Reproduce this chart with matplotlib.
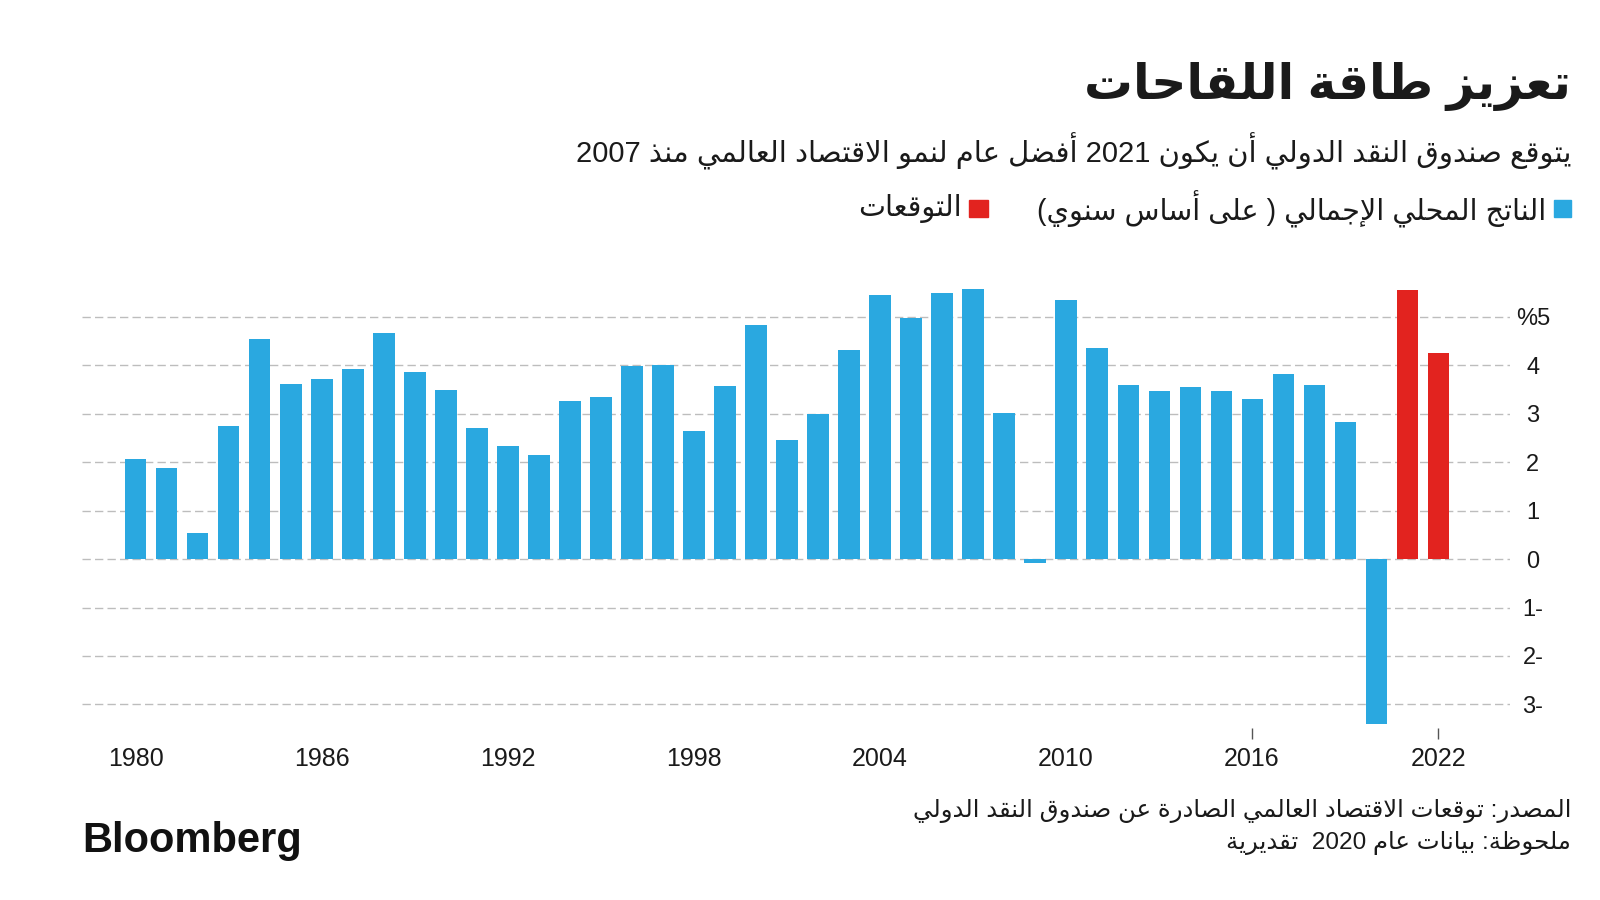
import re
import matplotlib
matplotlib.use('Agg')
import matplotlib.pyplot as plt
from matplotlib.patches import Rectangle

plt.rcParams['font.family'] = ['Liberation Sans', 'DejaVu Sans']

# data (world GDP growth, %)
years = list(range(1980, 2021))
gdp = [2.07, 1.87, 0.54, 2.75, 4.54, 3.60, 3.71, 3.91, 4.67, 3.86,
       3.49, 2.70, 2.34, 2.14, 3.26, 3.35, 3.98, 4.00, 2.64, 3.56,
       4.83, 2.45, 3.00, 4.31, 5.44, 4.97, 5.48, 5.57, 3.02, -0.08,
       5.35, 4.35, 3.58, 3.47, 3.54, 3.47, 3.30, 3.82, 3.59, 2.82,
       -3.40]
forecast_years = [2021, 2022]
forecast = [5.55, 4.24]

xtick_years = [1980, 1986, 1992, 1998, 2004, 2010, 2016, 2022]
ytick_vals = [-3, -2, -1, 0, 1, 2, 3, 4, 5]
ytick_labels = ['3-', '2-', '1-', '0', '1', '2', '3', '4', '%5']

title = 'تعزيز طاقة اللقاحات'
subtitle = 'يتوقع صندوق النقد الدولي أن يكون 2021 أفضل عام لنمو الاقتصاد العالمي منذ 2007'
legend_gdp = 'الناتج المحلي الإجمالي ( على أساس سنوي)'
legend_fc = 'التوقعات'
source = 'المصدر: توقعات الاقتصاد العالمي الصادرة عن صندوق النقد الدولي'
note = 'ملحوظة: بيانات عام 2020  تقديرية'

BLUE = '#2AA8E0'
RED = '#E2231F'

# matplotlib has no arabic shaping -> map letters to presentation forms by hand
DUAL = {'ئ': 0xFE89, 'ب': 0xFE8F, 'ت': 0xFE95, 'ث': 0xFE99, 'ج': 0xFE9D,
        'ح': 0xFEA1, 'خ': 0xFEA5, 'س': 0xFEB1, 'ش': 0xFEB5, 'ص': 0xFEB9,
        'ض': 0xFEBD, 'ط': 0xFEC1, 'ظ': 0xFEC5, 'ع': 0xFEC9, 'غ': 0xFECD,
        'ف': 0xFED1, 'ق': 0xFED5, 'ك': 0xFED9, 'ل': 0xFEDD, 'م': 0xFEE1,
        'ن': 0xFEE5, 'ه': 0xFEE9, 'ي': 0xFEF1}
RIGHT = {'آ': 0xFE81, 'أ': 0xFE83, 'ؤ': 0xFE85, 'إ': 0xFE87, 'ا': 0xFE8D,
         'ة': 0xFE93, 'د': 0xFEA9, 'ذ': 0xFEAB, 'ر': 0xFEAD, 'ز': 0xFEAF,
         'و': 0xFEED, 'ى': 0xFEEF}
LAM_ALEF = {'آ': 0xFEF5, 'أ': 0xFEF7, 'إ': 0xFEF9, 'ا': 0xFEFB}


def shape(text):
    units = []
    i = 0
    while i < len(text):
        c = text[i]
        if c == 'ل' and i + 1 < len(text) and text[i + 1] in LAM_ALEF:
            units.append((LAM_ALEF[text[i + 1]], False))
            i += 2
            continue
        if c in DUAL:
            units.append((DUAL[c], True))
        elif c in RIGHT:
            units.append((RIGHT[c], False))
        else:
            units.append(c)
        i += 1
    out = []
    for k, u in enumerate(units):
        if isinstance(u, str):
            out.append(u)
            continue
        base, dual = u
        prev = units[k - 1] if k > 0 else None
        nxt = units[k + 1] if k + 1 < len(units) else None
        form = 0
        if isinstance(prev, tuple) and prev[1]:
            form += 1
        if dual and isinstance(nxt, tuple):
            form += 2
        out.append(chr(base + form))
    return ''.join(out)


def ar(text):
    tokens = re.findall(r'[0-9]+|.', shape(text))
    tokens.reverse()
    mirror = {'(': ')', ')': '('}
    return ''.join(mirror.get(t, t) for t in tokens)


fig = plt.figure(figsize=(16, 9), dpi=100)
ax = fig.add_axes([0.05125, 0.1911, 0.8925, 0.5003])

ax.bar(years, gdp, width=0.68, color=BLUE, zorder=3)
ax.bar(forecast_years, forecast, width=0.68, color=RED, zorder=3)

ax.set_xlim(1978.26, 2024.32)
ax.set_ylim(-3.485, 5.8)

ax.set_yticks(ytick_vals)
ax.set_yticklabels(ytick_labels)
ax.yaxis.tick_right()
ax.tick_params(axis='y', length=0, pad=16.5, labelsize=17, labelcolor='#1a1a1a')
for lab in ax.get_yticklabels():
    lab.set_ha('center')
ax.grid(axis='y', color='#BDBDBD', linestyle=(0, (6, 3)), linewidth=1, zorder=0)
ax.set_axisbelow(True)

ax.set_xticks(xtick_years)
ax.set_xticklabels([str(y) for y in xtick_years])
ax.xaxis.remove_overlapping_locs = False
ax.set_xticks([2016, 2022], minor=True)
ax.tick_params(axis='x', which='major', length=0, pad=14, labelsize=18, labelcolor='#1a1a1a')
ax.tick_params(axis='x', which='minor', length=8, width=1, color='#555555', direction='out')

for s in ax.spines.values():
    s.set_visible(False)

# titles
fig.text(0.982, 0.904, ar(title), ha='right', va='center', fontsize=35,
         fontweight='bold', color='#1a1a1a')
fig.text(0.982, 0.832, ar(subtitle), ha='right', va='center', fontsize=21, color='#1a1a1a')

# legend
fig.add_artist(Rectangle((1554 / 1600, 1 - 217 / 900), 17 / 1600, 17 / 900,
                         transform=fig.transFigure, color=BLUE))
fig.text(1546 / 1600, 0.768, ar(legend_gdp), ha='right', va='center', fontsize=20.6, color='#1a1a1a')
fig.add_artist(Rectangle((969 / 1600, 1 - 217 / 900), 19 / 1600, 17 / 900,
                         transform=fig.transFigure, color=RED))
fig.text(962 / 1600, 0.768, ar(legend_fc), ha='right', va='center', fontsize=20.6, color='#1a1a1a')

# footer
fig.text(0.982, 0.099, ar(source), ha='right', va='center', fontsize=17.6, color='#1a1a1a')
fig.text(0.982, 0.063, ar(note), ha='right', va='center', fontsize=17.6, color='#1a1a1a')
fig.text(82 / 1600, 0.066, 'Bloomberg', ha='left', va='center', fontsize=30,
         fontweight='bold', color='#111111')

fig.savefig('out.png', dpi=100, facecolor='white')
